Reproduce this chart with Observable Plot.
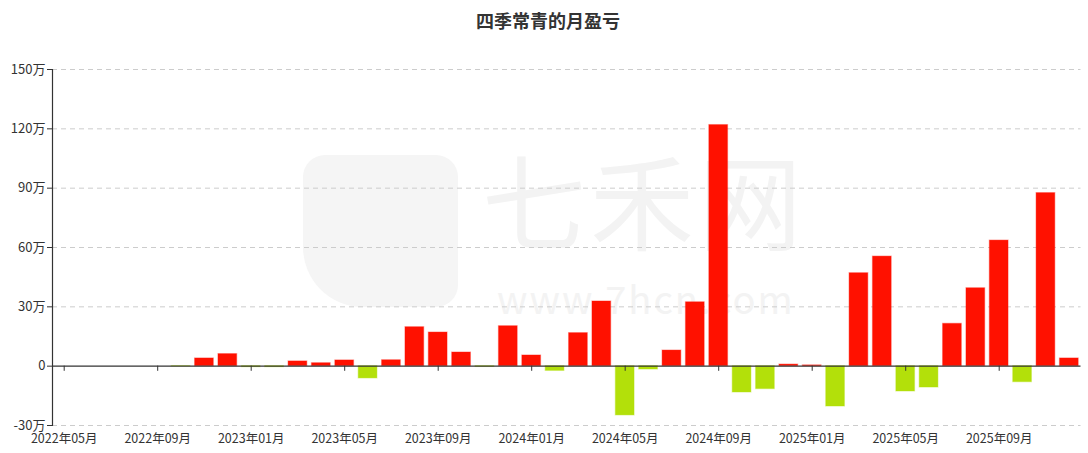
<!DOCTYPE html>
<html>
<head>
<meta charset="utf-8">
<script src="https://cdn.jsdelivr.net/npm/d3@7"></script>
<script src="https://cdn.jsdelivr.net/npm/@observablehq/plot@0.6"></script>
<style>
  html, body { margin: 0; padding: 0; background: #fff; }
  body { width: 1088px; height: 453px; overflow: hidden; font-family: "Noto Sans CJK SC", "Noto Sans", sans-serif; position: relative; }
  #title { height: 40px; line-height: 40px; text-align: center; font-size: 18px; font-weight: bold; color: #333; padding-left: 8px; box-sizing: border-box; }
  #wm { position: absolute; left: 0; top: 0; width: 1088px; height: 453px; pointer-events: none; }
  #wm .big { position: absolute; left: 482px; top: 146px; font-size: 104px; line-height: 104px; color: #f3f3f3; letter-spacing: 4px; white-space: nowrap; }
  #wm .url { position: absolute; left: 497px; top: 278px; font-size: 38px; line-height: 40px; color: #f3f3f3; letter-spacing: 2px; white-space: nowrap; }
  #wm .logo { position: absolute; left: 303px; top: 155px; width: 155px; height: 152px; background: #f5f5f5; border-radius: 22px 22px 22px 60px; }
  #chart { position: relative; }
  #chart svg { background: transparent !important; }
</style>
</head>
<body>
<div id="wm"><div class="logo"></div><div class="big">七禾网</div><div class="url">www.7hcn.com</div></div>
<div id="title">四季常青的月盈亏</div>
<div id="chart"></div>
<script>
const months = [
  "2022年05月","2022年06月","2022年07月","2022年08月","2022年09月","2022年10月","2022年11月","2022年12月",
  "2023年01月","2023年02月","2023年03月","2023年04月","2023年05月","2023年06月","2023年07月","2023年08月",
  "2023年09月","2023年10月","2023年11月","2023年12月","2024年01月","2024年02月","2024年03月","2024年04月",
  "2024年05月","2024年06月","2024年07月","2024年08月","2024年09月","2024年10月","2024年11月","2024年12月",
  "2025年01月","2025年02月","2025年03月","2025年04月","2025年05月","2025年06月","2025年07月","2025年08月",
  "2025年09月","2025年10月","2025年11月","2025年12月"
];
// monthly profit / loss, in 万
const profit = [
  0, 0, 0, 0, 0, -0.2, 3.9, 6.1,
  -0.5, -0.5, 2.4, 1.5, 2.9, -6.2, 3.0, 19.7,
  17.0, 6.9, -0.4, 20.2, 5.4, -2.4, 16.7, 32.7,
  -24.9, -1.7, 7.9, 32.3, 121.9, -13.3, -11.6, 0.8,
  0.4, -20.4, 47.0, 55.4, -12.8, -10.8, 21.4, 39.4,
  63.5, -8.1, 87.5, 3.9
];
const yTicks = [-30, 0, 30, 60, 90, 120, 150];
const xTickLabels = ["2022年05月","2022年09月","2023年01月","2023年05月","2023年09月","2024年01月","2024年05月","2024年09月","2025年01月","2025年05月","2025年09月"];

const RED = "#ff1100";
const GREEN = "#b3e00a";

const data = months.map((m, i) => ({month: m, value: profit[i]})).filter(d => d.value !== 0);
const gridTicks = yTicks.filter(t => t !== 0);

const chart = Plot.plot({
  width: 1088,
  height: 413,
  marginTop: 29,
  marginBottom: 28,
  marginLeft: 52,
  marginRight: 7.5,
  style: {fontFamily: "'Noto Sans CJK SC', 'Noto Sans', sans-serif", fontSize: "13px", color: "#333", background: "transparent"},
  x: {type: "band", domain: months, paddingInner: 0.2, paddingOuter: 0.1, round: false, label: null},
  y: {domain: [-30, 150], ticks: yTicks, label: null},
  marks: [
    Plot.ruleY(gridTicks, {y: d => d, stroke: "#cccccc", strokeDasharray: "5,4", strokeWidth: 1}),
    Plot.barY(data, {
      x: "month", y: "value",
      fill: d => d.value >= 0 ? RED : GREEN,
      stroke: d => d.value >= 0 ? RED : GREEN,
      strokeOpacity: 0.35, strokeWidth: 1.2
    }),
    Plot.ruleY([0], {stroke: "#333", strokeWidth: 1.2}),
    Plot.ruleX(xTickLabels, {x: d => d, y1: 0, y2: -2.6, stroke: "#333", strokeWidth: 1}),
    Plot.frame({anchor: "left", stroke: "#333", strokeWidth: 1.2}),
    Plot.axisY({ticks: yTicks, tickFormat: d => d === 0 ? "0" : d + "万", tickSize: 5, tickPadding: 2, stroke: "#333", fill: "#333", fontSize: 13, label: null}),
    Plot.axisX({ticks: xTickLabels, tickSize: 0, tickPadding: 9, fill: "#333", fontSize: 12.5, label: null})
  ]
});
document.getElementById("chart").appendChild(chart);
</script>
</body>
</html>
